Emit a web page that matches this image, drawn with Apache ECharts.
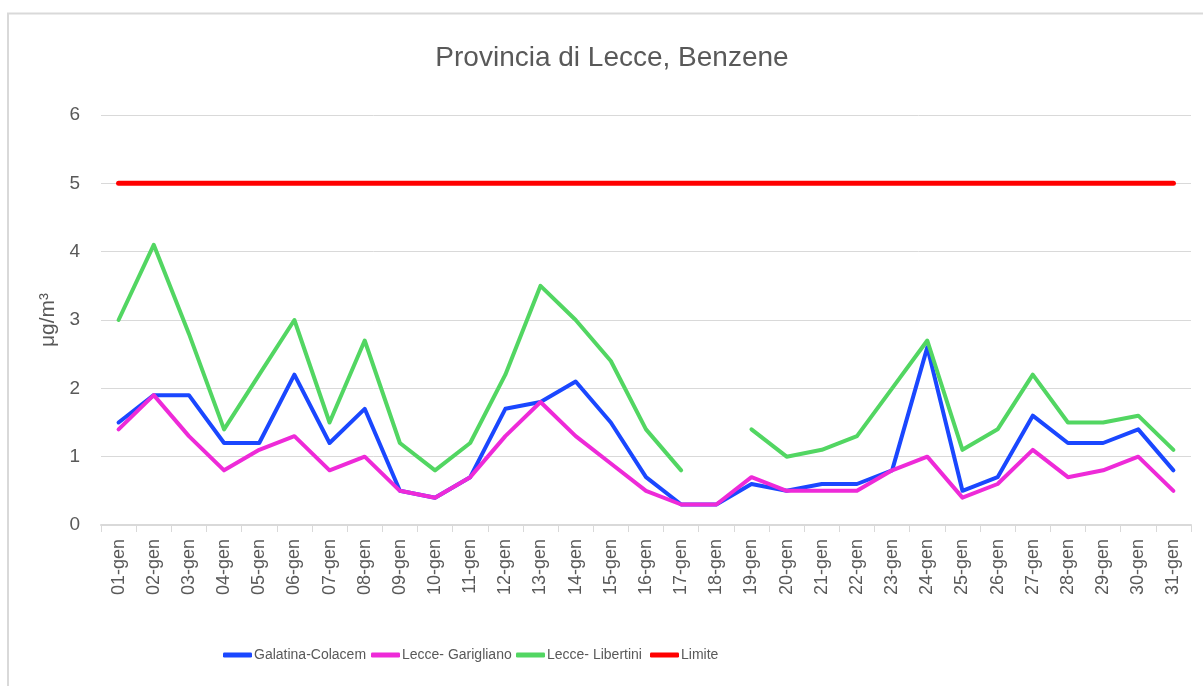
<!DOCTYPE html>
<html>
<head>
<meta charset="utf-8">
<script src="https://cdn.jsdelivr.net/npm/echarts@6/dist/echarts.min.js"></script>
<style>
  html, body { margin: 0; padding: 0; background: #fff; }
  #chart { width: 1203px; height: 686px; }
</style>
</head>
<body>
<div id="chart"></div>
<script>
// giorni di gennaio
const days = [
  '01-gen', '02-gen', '03-gen', '04-gen', '05-gen', '06-gen', '07-gen', '08-gen',
  '09-gen', '10-gen', '11-gen', '12-gen', '13-gen', '14-gen', '15-gen', '16-gen',
  '17-gen', '18-gen', '19-gen', '20-gen', '21-gen', '22-gen', '23-gen', '24-gen',
  '25-gen', '26-gen', '27-gen', '28-gen', '29-gen', '30-gen', '31-gen'
];

// valori in µg/m3
const galatina = [1.5, 1.9, 1.9, 1.2, 1.2, 2.2, 1.2, 1.7, 0.5, 0.4, 0.7, 1.7, 1.8, 2.1, 1.5, 0.7,
  0.3, 0.3, 0.6, 0.5, 0.6, 0.6, 0.8, 2.6, 0.5, 0.7, 1.6, 1.2, 1.2, 1.4, 0.8];
const garigliano = [1.4, 1.9, 1.3, 0.8, 1.1, 1.3, 0.8, 1.0, 0.5, 0.4, 0.7, 1.3, 1.8, 1.3, 0.9, 0.5,
  0.3, 0.3, 0.7, 0.5, 0.5, 0.5, 0.8, 1.0, 0.4, 0.6, 1.1, 0.7, 0.8, 1.0, 0.5];
const libertini = [3.0, 4.1, 2.8, 1.4, 2.2, 3.0, 1.5, 2.7, 1.2, 0.8, 1.2, 2.2, 3.5, 3.0, 2.4, 1.4,
  0.8, null, 1.4, 1.0, 1.1, 1.3, 2.0, 2.7, 1.1, 1.4, 2.2, 1.5, 1.5, 1.6, 1.1];
const limite = days.map(() => 5);

const seriesNames = ['Galatina-Colacem', 'Lecce- Garigliano', 'Lecce- Libertini', 'Limite'];
const seriesColors = ['#1a47ff', '#ee2ad8', '#52d662', '#ff0000'];
const legendLeft = [218, 366, 511, 645];

const chart = echarts.init(document.getElementById('chart'));

const textFont = "'Liberation Sans', sans-serif";

function makeLine(name, data, color, width) {
  return {
    name: name,
    type: 'line',
    data: data,
    symbol: 'none',
    connectNulls: false,
    lineStyle: { color: color, width: width, cap: 'round', join: 'round' },
    itemStyle: { color: color },
    animation: false
  };
}

chart.setOption({
  backgroundColor: '#fff',
  title: {
    text: 'Provincia di Lecce, Benzene',
    left: 607,
    top: 39,
    textAlign: 'center',
    textStyle: { color: '#595959', fontSize: 28, fontWeight: 'normal', fontFamily: textFont }
  },
  legend: seriesNames.map((n, i) => ({
    data: [n],
    left: legendLeft[i],
    top: 643,
    icon: 'roundRect',
    itemWidth: 29,
    itemHeight: 5,
    itemGap: 4,
    textStyle: { color: '#595959', fontSize: 14, fontFamily: textFont, padding: [0, 0, 0, -3] }
  })),
  grid: { left: 101, right: 12, top: 115, bottom: 161 },
  xAxis: {
    type: 'category',
    data: days,
    boundaryGap: true,
    axisLine: { lineStyle: { color: '#d9d9d9', width: 2 } },
    axisTick: { show: true, length: 7, lineStyle: { color: '#d9d9d9', width: 1 } },
    axisLabel: { rotate: 90, interval: 0, margin: 14, color: '#595959', fontSize: 18, fontFamily: textFont },
    splitLine: { show: false }
  },
  yAxis: {
    type: 'value',
    min: 0,
    max: 6,
    interval: 1,
    name: 'μg/m³',
    nameLocation: 'middle',
    nameRotate: 90,
    nameGap: 41,
    nameTextStyle: { color: '#595959', fontSize: 21, fontFamily: textFont },
    axisLine: { show: false },
    axisTick: { show: false },
    axisLabel: { color: '#595959', fontSize: 19, margin: 21, fontFamily: textFont },
    splitLine: { lineStyle: { color: '#d9d9d9', width: 1 } }
  },
  series: [
    makeLine(seriesNames[0], galatina, seriesColors[0], 4),
    makeLine(seriesNames[1], garigliano, seriesColors[1], 4),
    makeLine(seriesNames[2], libertini, seriesColors[2], 4),
    makeLine(seriesNames[3], limite, seriesColors[3], 5)
  ],
  graphic: [{
    type: 'rect',
    shape: { x: 8, y: 13.5, width: 1400, height: 1000 },
    style: { fill: null, stroke: '#d9d9d9', lineWidth: 2 },
    silent: true
  }]
});
</script>
</body>
</html>
